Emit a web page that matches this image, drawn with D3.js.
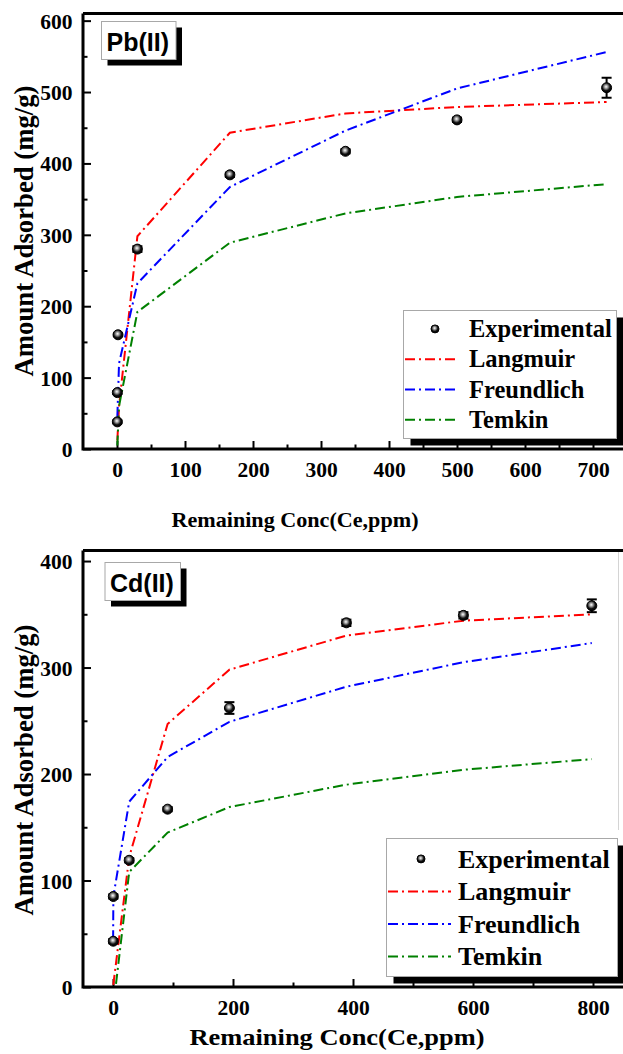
<!DOCTYPE html>
<html>
<head>
<meta charset="utf-8">
<script src="https://cdn.jsdelivr.net/npm/d3@7"></script>
<style>
  html, body { margin: 0; padding: 0; background: #fff; }
  svg { display: block; }
</style>
</head>
<body>
<svg id="chart" width="623" height="1054"></svg>
<script>
// ---- Pb(II) isotherm ----
const pbCe = [0.5, 0.5, 1.5, 30, 166, 336, 500, 720];
const pbQe = [38, 79, 160, 280, 384, 417, 461, 506];
const pbErr = [2, 2, 2, 4, 3, 3, 3, 14];
const pbFitCe = [0.5, 3, 30, 166, 336, 500, 720];
const pbLangmuir = [12, 60, 298, 443, 470, 479, 486];
const pbFreundlich = [45, 120, 232, 367, 446, 505, 556];
const pbTemkin = [5, 60, 192, 289, 330, 353, 371];
const pbXTicks = [0, 100, 200, 300, 400, 500, 600, 700];
const pbYTicks = [0, 100, 200, 300, 400, 500, 600];

// ---- Cd(II) isotherm ----
const cdCe = [0.5, 0.5, 27, 91, 194, 389, 584, 798];
const cdQe = [43, 85, 119, 167, 262, 342, 349, 358];
const cdErr = [2, 2, 2, 2, 5.5, 3, 3, 6];
const cdLangmuirCe = [0.5, 27, 91, 194, 389, 584, 798];
const cdLangmuir = [2, 122, 247, 298, 330, 344, 350];
const cdFreundlichCe = [0.2, 0.6, 27, 91, 194, 389, 584, 798];
const cdFreundlich = [44, 85, 174, 216, 249, 282, 305, 323];
const cdTemkinCe = [5, 27, 91, 194, 389, 584, 798];
const cdTemkin = [3, 108, 145, 169, 190, 204, 214];
const cdXTicks = [0, 200, 400, 600, 800];
const cdYTicks = [0, 100, 200, 300, 400];

const seriesNames = ["Experimental", "Langmuir", "Freundlich", "Temkin"];
const seriesColors = { Langmuir: "#FF0000", Freundlich: "#0000FF", Temkin: "#008000" };
const xTitle = "Remaining Conc(Ce,ppm)";
const yTitle = "Amount Adsorbed (mg/g)";

const SERIF = "'Liberation Serif', 'Times New Roman', serif";
const SANS = "'Liberation Sans', Arial, sans-serif";

const svg = d3.select("#chart");

// sphere-like marker fill
const defs = svg.append("defs");
const grad = defs.append("radialGradient").attr("id", "ball")
  .attr("cx", "45%").attr("cy", "40%").attr("r", "60%");
grad.append("stop").attr("offset", "0%").attr("stop-color", "#ffffff");
grad.append("stop").attr("offset", "30%").attr("stop-color", "#9a9a9a");
grad.append("stop").attr("offset", "65%").attr("stop-color", "#111");
grad.append("stop").attr("offset", "100%").attr("stop-color", "#000");

const DASH = "10,4,2,4";

function serifText(sel, size) {
  return sel.style("font-family", SERIF).style("font-weight", "bold")
    .style("font-size", size + "px").attr("fill", "#000");
}

function drawPanel(cfg) {
  const x = d3.scaleLinear().domain(cfg.xDomain).range(cfg.xRange);
  const y = d3.scaleLinear().domain(cfg.yDomain).range(cfg.yRange);
  const left = cfg.xRange[0], bottom = cfg.yRange[0], top = cfg.yRange[1];
  const g = svg.append("g");

  // minor ticks
  const xMinor = g.append("g").attr("transform", `translate(0,${bottom})`)
    .call(d3.axisBottom(x).tickValues(cfg.xMinor).tickSize(-4.5).tickFormat(""));
  const yMinor = g.append("g").attr("transform", `translate(${left},0)`)
    .call(d3.axisLeft(y).tickValues(cfg.yMinor).tickSize(-4.5).tickFormat(""));
  [xMinor, yMinor].forEach(a => {
    a.select(".domain").remove();
    a.selectAll("line").attr("stroke", "#000").attr("stroke-width", 2);
  });

  // major ticks with labels
  const xAx = g.append("g").attr("transform", `translate(0,${bottom})`)
    .call(d3.axisBottom(x).tickValues(cfg.xTicks).tickSize(-8).tickFormat(d3.format("d")));
  serifText(xAx.selectAll("text").attr("y", 28).attr("dy", null), 21.5);
  const yAx = g.append("g").attr("transform", `translate(${left},0)`)
    .call(d3.axisLeft(y).tickValues(cfg.yTicks).tickSize(-8).tickFormat(d3.format("d")));
  serifText(yAx.selectAll("text").attr("x", -10.5).attr("dy", "0.35em"), 21.5);
  [xAx, yAx].forEach(a => {
    a.select(".domain").remove();
    a.selectAll("line").attr("stroke", "#000").attr("stroke-width", 2);
  });

  // frame: left, bottom and top edges
  g.append("path")
    .attr("d", `M${left},${top} L${left},${bottom} L${cfg.xRange[1]},${bottom}`)
    .attr("fill", "none").attr("stroke", "#000").attr("stroke-width", 3);
  g.append("line").attr("x1", left).attr("x2", cfg.xRange[1])
    .attr("y1", top).attr("y2", top).attr("stroke", "#000").attr("stroke-width", 3);

  // model fits
  const line = d3.line().x(d => x(d[0])).y(d => y(d[1]));
  cfg.fits.forEach(f => {
    g.append("path")
      .datum(f.ce.map((c, i) => [c, f.q[i]]))
      .attr("d", line)
      .attr("fill", "none")
      .attr("stroke", seriesColors[f.name])
      .attr("stroke-width", 2)
      .attr("stroke-dasharray", DASH);
  });

  // experimental points with error bars
  const pts = cfg.ce.map((c, i) => ({ c, q: cfg.q[i], e: cfg.err[i] }));
  const eb = g.append("g").attr("stroke", "#000").attr("stroke-width", 2);
  pts.forEach(p => {
    const px = x(p.c), y1 = y(p.q + p.e), y2 = y(p.q - p.e);
    eb.append("line").attr("x1", px).attr("x2", px).attr("y1", y1).attr("y2", y2);
    eb.append("line").attr("x1", px - 5).attr("x2", px + 5).attr("y1", y1).attr("y2", y1);
    eb.append("line").attr("x1", px - 5).attr("x2", px + 5).attr("y1", y2).attr("y2", y2);
  });
  g.append("g").selectAll("circle").data(pts).join("circle")
    .attr("cx", d => x(d.c)).attr("cy", d => y(d.q)).attr("r", 5)
    .attr("fill", "url(#ball)").attr("stroke", "#000").attr("stroke-width", 1);

  // panel label
  const lb = cfg.label;
  g.append("rect").attr("x", lb.x + 6).attr("y", lb.y + 6).attr("width", lb.w).attr("height", lb.h).attr("fill", "#000");
  g.append("rect").attr("x", lb.x).attr("y", lb.y).attr("width", lb.w).attr("height", lb.h)
    .attr("fill", "#fff").attr("stroke", "#a8a8a8").attr("stroke-width", 1);
  g.append("text").style("font-family", SANS).style("font-weight", "bold").style("font-size", "25px")
    .attr("x", lb.x + 5).attr("y", lb.y + 29).text(lb.text);

  // legend
  const lg = cfg.legend;
  g.append("rect").attr("x", lg.x + 7).attr("y", lg.y + 7).attr("width", lg.w).attr("height", lg.h).attr("fill", "#000");
  g.append("rect").attr("x", lg.x).attr("y", lg.y).attr("width", lg.w).attr("height", lg.h)
    .attr("fill", "#fff").attr("stroke", "#a8a8a8").attr("stroke-width", 1);
  seriesNames.forEach((name, i) => {
    const by = lg.base0 + i * lg.step;
    const cy = by - lg.fs * 0.33;
    if (name === "Experimental") {
      g.append("circle").attr("cx", lg.dotX).attr("cy", cy).attr("r", 4)
        .attr("fill", "url(#ball)").attr("stroke", "#000").attr("stroke-width", 1);
    } else {
      g.append("line").attr("x1", lg.lineX0).attr("x2", lg.lineX1).attr("y1", cy).attr("y2", cy)
        .attr("stroke", seriesColors[name]).attr("stroke-width", 2).attr("stroke-dasharray", DASH);
    }
    serifText(g.append("text"), lg.fs).attr("x", lg.textX).attr("y", by).text(name);
  });

  // axis titles
  serifText(g.append("text"), cfg.xTitle.fs)
    .attr("text-anchor", "middle").attr("x", cfg.xTitle.cx).attr("y", cfg.xTitle.y)
    .attr("textLength", cfg.xTitle.len).attr("lengthAdjust", "spacingAndGlyphs")
    .text(xTitle);
  serifText(g.append("text"), 27)
    .attr("text-anchor", "middle")
    .attr("transform", `translate(33,${cfg.yTitleCy}) rotate(-90)`)
    .attr("textLength", 291).attr("lengthAdjust", "spacingAndGlyphs")
    .text(yTitle);
}

drawPanel({
  xDomain: [-50, 750], xRange: [83, 627],
  yDomain: [0, 610], yRange: [449, 13.5],
  xTicks: pbXTicks, xMinor: [50, 150, 250, 350, 450, 550, 650],
  yTicks: pbYTicks, yMinor: [50, 150, 250, 350, 450, 550],
  ce: pbCe, q: pbQe, err: pbErr,
  fits: [
    { name: "Langmuir", ce: pbFitCe, q: pbLangmuir },
    { name: "Freundlich", ce: pbFitCe, q: pbFreundlich },
    { name: "Temkin", ce: pbFitCe, q: pbTemkin }
  ],
  label: { x: 101.5, y: 21.5, w: 74.5, h: 38, text: "Pb(II)" },
  legend: { x: 403.5, y: 310.5, w: 213, h: 128, fs: 24.5, base0: 337, step: 30.3,
            textX: 469, dotX: 435, lineX0: 405, lineX1: 457 },
  xTitle: { cx: 295, y: 527, fs: 22, len: 247 },
  yTitleCy: 231
});

drawPanel({
  xDomain: [-50, 850], xRange: [83, 623],
  yDomain: [0, 410], yRange: [987, 550.4],
  xTicks: cdXTicks, xMinor: [100, 300, 500, 700],
  yTicks: cdYTicks, yMinor: [50, 150, 250, 350],
  ce: cdCe, q: cdQe, err: cdErr,
  fits: [
    { name: "Langmuir", ce: cdLangmuirCe, q: cdLangmuir },
    { name: "Freundlich", ce: cdFreundlichCe, q: cdFreundlich },
    { name: "Temkin", ce: cdTemkinCe, q: cdTemkin }
  ],
  label: { x: 105, y: 562.5, w: 75.5, h: 38, text: "Cd(II)" },
  legend: { x: 386.5, y: 838.5, w: 231, h: 138, fs: 26, base0: 867.5, step: 32.5,
            textX: 458, dotX: 421, lineX0: 388, lineX1: 451 },
  xTitle: { cx: 337, y: 1045, fs: 23, len: 295 },
  yTitleCy: 770
});

// thin edge line on the right of the lower plot
svg.append("line").attr("x1", 618.5).attr("x2", 618.5).attr("y1", 552).attr("y2", 830)
  .attr("stroke", "#d4d4d4").attr("stroke-width", 1);
</script>
</body>
</html>
